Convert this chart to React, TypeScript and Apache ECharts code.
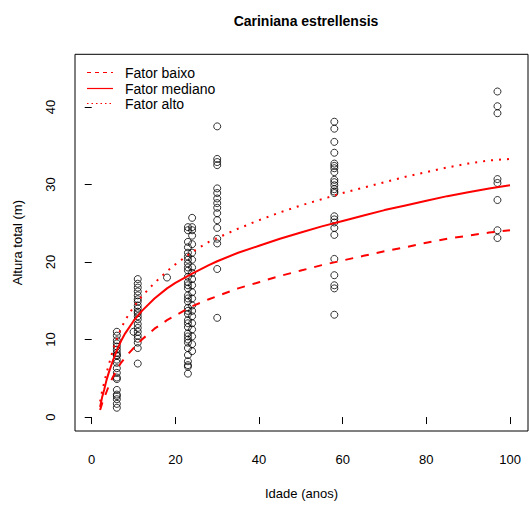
import React, { useEffect, useRef } from "react";
import * as echarts from "echarts";

const chartTitle = "Cariniana estrellensis";
const xName = "Idade (anos)";
const yName = "Altura total (m)";
const xTicks = [0, 20, 40, 60, 80, 100];
const yTicks = [0, 10, 20, 30, 40];
const legendNames = ["Fator baixo", "Fator mediano", "Fator alto"];

// fitted curves
const curveAges = [2, 2.5, 3, 3.5, 4, 5, 6, 7, 8, 10, 12, 15, 18, 20, 24, 28, 30, 35, 40, 45, 50, 55, 60, 65, 70, 75, 80, 85, 90, 95, 100];
const lowH = [0.9, 1.8, 2.5, 3.2, 3.9, 5.1, 6.1, 7.0, 7.7, 8.9, 10.0, 11.4, 12.5, 13.1, 14.3, 15.2, 15.6, 16.6, 17.4, 18.2, 18.9, 19.6, 20.2, 20.8, 21.4, 21.9, 22.5, 23.0, 23.4, 23.8, 24.1];
const midH = [1.3, 2.6, 3.6, 4.7, 5.6, 7.2, 8.6, 9.8, 10.8, 12.4, 13.7, 15.3, 16.6, 17.3, 18.5, 19.6, 20.1, 21.2, 22.1, 23.0, 23.8, 24.6, 25.3, 26.0, 26.7, 27.3, 27.9, 28.5, 29.0, 29.5, 29.9];
const highH = [2.0, 3.4, 4.5, 5.6, 6.6, 8.5, 10.1, 11.4, 12.5, 14.2, 15.6, 17.3, 18.8, 19.7, 21.3, 22.6, 23.1, 24.3, 25.4, 26.4, 27.3, 28.1, 28.9, 29.6, 30.3, 31.0, 31.6, 32.2, 32.7, 33.1, 33.3];

// observed trees: ages and the heights measured at each age
const obsAges = [6, 10, 11, 18, 23, 24, 30, 58, 97];
const obsHeights = [
  [11.0, 10.5, 9.9, 9.5, 9.1, 8.7, 8.3, 8.0, 7.9, 7.4, 7.0, 6.3, 5.7, 5.1, 4.9, 3.5, 2.9, 2.7, 2.3, 1.7, 1.2],
  [11.0],
  [17.8, 17.2, 16.7, 16.2, 15.7, 15.2, 14.9, 14.4, 14.0, 13.6, 13.4, 13.0, 12.6, 12.0, 11.5, 11.0, 10.5, 10.1, 9.6, 8.9, 6.9],
  [18.0],
  [24.5, 24.1, 22.6, 21.9, 21.2, 20.7, 20.3, 19.8, 19.3, 18.9, 18.1, 17.4, 17.0, 16.6, 15.7, 15.3, 14.9, 14.1, 13.7, 13.3, 12.5, 12.1, 11.6, 10.8, 10.4, 10.0, 9.6, 8.9, 8.0, 7.2, 6.7, 6.5, 5.6],
  [25.7, 24.5, 24.1, 23.4, 22.3, 21.2, 20.3, 19.3, 18.6, 17.8, 17.0, 16.1, 15.3, 14.4, 13.7, 13.0, 12.1, 11.3, 10.4, 9.4, 8.5],
  [37.5, 33.3, 32.9, 32.5, 29.5, 28.9, 28.2, 27.6, 27.0, 26.3, 25.4, 24.4, 23.0, 22.4, 19.1, 12.8],
  [38.1, 37.2, 35.5, 34.1, 32.7, 32.4, 32.1, 31.6, 30.6, 30.3, 29.9, 29.4, 29.1, 28.9, 25.9, 25.5, 25.1, 24.4, 23.5, 20.4, 18.3, 17.0, 16.6, 13.2],
  [42.0, 40.1, 39.2, 30.7, 30.2, 28.0, 24.1, 23.1],
];

const FONT = "'Liberation Sans', Arial, Helvetica, sans-serif";
const RED = "#ff0000";

export default function App() {
  const ref = useRef<HTMLDivElement>(null);
  useEffect(() => {
    if (!ref.current) return;
    const chart = echarts.init(ref.current, undefined, { renderer: "svg" });
    const scatterData = obsAges.flatMap((a, i) => obsHeights[i].map((h) => [a, h]));
    const curve = (arr: number[]) => curveAges.map((a, i) => [a, arr[i]]);
    const legendRows = [72.5, 88.5, 103.5];
    const legendDash: (number[] | null)[] = [[4, 4], null, [1.5, 3]];
    const graphics: any[] = [];
    legendNames.forEach((name, i) => {
      graphics.push({
        type: "line",
        shape: { x1: 87, y1: legendRows[i], x2: 113, y2: legendRows[i] },
        style: { stroke: RED, lineWidth: 1.2, lineDash: legendDash[i] || undefined },
      });
      graphics.push({
        type: "text",
        x: 125,
        y: legendRows[i],
        style: { text: name, fill: "#000", font: `14px ${FONT}`, verticalAlign: "middle", align: "left" },
      });
    });
    chart.setOption({
      animation: false,
      backgroundColor: "#fff",
      title: {
        text: chartTitle,
        left: 301,
        top: 9,
        textAlign: "center",
        textStyle: { fontFamily: FONT, fontSize: 14, fontWeight: "bold", color: "#000" },
      },
      grid: { left: 75, right: 1, top: 54.3, bottom: 69.2, show: true, borderColor: "#000", borderWidth: 1 },
      xAxis: {
        type: "value",
        min: -4,
        max: 104.3,
        name: xName,
        nameLocation: "middle",
        nameGap: 56,
        nameTextStyle: { fontFamily: FONT, fontSize: 13, color: "#000" },
        axisLine: { show: false },
        axisTick: { show: true, length: 7, customValues: xTicks, lineStyle: { color: "#000" } },
        axisLabel: { customValues: xTicks, fontFamily: FONT, fontSize: 13, color: "#000", margin: 22 },
        splitLine: { show: false },
      },
      yAxis: {
        type: "value",
        min: -1.8,
        max: 46.8,
        name: yName,
        nameLocation: "middle",
        nameGap: 51,
        nameTextStyle: { fontFamily: FONT, fontSize: 13, color: "#000" },
        axisLine: { show: false },
        axisTick: { show: true, length: 7, customValues: yTicks, lineStyle: { color: "#000" } },
        axisLabel: { customValues: yTicks, rotate: 90, fontFamily: FONT, fontSize: 13, color: "#000", margin: 18 },
        splitLine: { show: false },
      },
      graphic: graphics,
      series: [
        {
          type: "scatter",
          data: scatterData,
          symbol: "circle",
          symbolSize: 7,
          itemStyle: { color: "rgba(0,0,0,0)", borderColor: "#000", borderWidth: 1 },
          z: 2,
        },
        {
          type: "line",
          name: legendNames[0],
          data: curve(lowH),
          symbol: "none",
          lineStyle: { color: RED, width: 2, type: [8, 8] },
          z: 3,
        },
        {
          type: "line",
          name: legendNames[1],
          data: curve(midH),
          symbol: "none",
          lineStyle: { color: RED, width: 2 },
          z: 3,
        },
        {
          type: "line",
          name: legendNames[2],
          data: curve(highH),
          symbol: "none",
          lineStyle: { color: RED, width: 2, type: [2, 6] },
          z: 3,
        },
      ],
    });
    return () => chart.dispose();
  }, []);
  return <div ref={ref} style={{ width: 529, height: 505, position: "absolute", left: 0, top: 0 }} />;
}
